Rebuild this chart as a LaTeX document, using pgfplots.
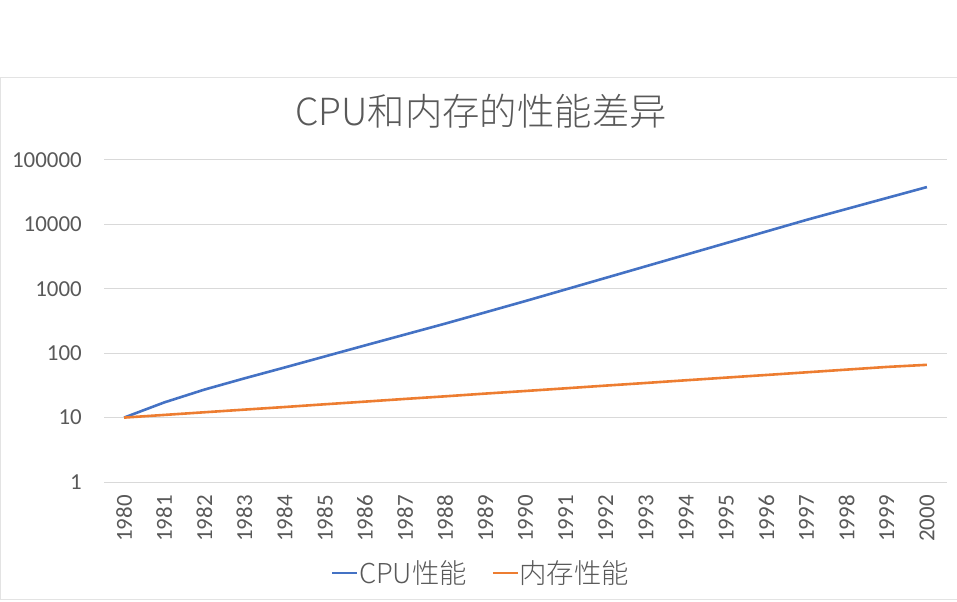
\documentclass[border=0pt]{standalone}
\usepackage{fontspec}
\usepackage{pgfplots}
\pgfplotsset{compat=1.18}
\setmainfont{Carlito}
\newfontfamily\cjk{Noto Sans CJK SC Light}
\definecolor{tgray}{HTML}{595959}
\definecolor{gridc}{HTML}{D9D9D9}
\definecolor{bordc}{HTML}{E3E3E3}
\definecolor{cpublue}{HTML}{4472C4}
\definecolor{memorange}{HTML}{ED7D31}
\begin{document}
\begin{tikzpicture}
\path[use as bounding box] (0bp,0bp) rectangle (957bp,602bp);
\draw[color=bordc, line width=1bp] (957bp,524.5bp) -- (0.5bp,524.5bp) -- (0.5bp,2bp) -- (957bp,2bp);
\node[font=\cjk\fontsize{37.5}{37.5}\selectfont, text=tgray] at (481bp,491bp) {CPU和内存的性能差异};
\begin{axis}[
  at={(104bp,120bp)}, anchor=south west,
  scale only axis, width=843bp, height=322bp,
  ymode=log, ymin=1, ymax=100000,
  xmin=1979.5, xmax=2000.5,
  axis line style={draw=none},
  major tick length=0pt, minor tick length=0pt,
  ymajorgrids, grid style={color=gridc, line width=1bp},
  xtick={1980,1981,1982,1983,1984,1985,1986,1987,1988,1989,1990,1991,1992,1993,1994,1995,1996,1997,1998,1999,2000},
  xticklabels={1980,1981,1982,1983,1984,1985,1986,1987,1988,1989,1990,1991,1992,1993,1994,1995,1996,1997,1998,1999,2000},
  ytick={1,10,100,1000,10000,100000},
  yticklabels={1,10,100,1000,10000,100000},
  ticklabel style={font=\fontsize{23}{23}\selectfont, text=tgray, inner sep=0pt},
  yticklabel style={anchor=east},
  xticklabel style={rotate=90, anchor=east},
  yticklabel shift=22bp,
  xticklabel shift=13bp,
  legend style={at={(0.447,-0.283)}, anchor=center, draw=none, fill=none,
    font=\cjk\fontsize{27.5}{27.5}\selectfont, text=tgray,
    /tikz/every even column/.append style={column sep=24bp},
    nodes={inner sep=1bp}},
  legend columns=2,
  legend image code/.code={\draw[#1, line width=1.4bp] (0bp,0bp) -- (25bp,0bp);},
]
\addplot[color=cpublue, line width=2.6bp, line join=round] coordinates {
(1980,10) (1981,17.2) (1982,27.2) (1983,40.7) (1984,60) (1985,89)
(1986,132) (1987,195) (1988,288) (1989,431) (1990,646) (1991,977)
(1992,1479) (1993,2239) (1994,3388) (1995,5129) (1996,7762)
(1997,11749) (1998,17378) (1999,25704) (2000,38019)
};
\addlegendentry{CPU性能}
\addplot[color=memorange, line width=2.6bp, line join=round] coordinates {
(1980,10) (1981,11) (1982,12.1) (1983,13.3) (1984,14.6) (1985,16.1)
(1986,17.7) (1987,19.5) (1988,21.4) (1989,23.6) (1990,25.9) (1991,28.5)
(1992,31.4) (1993,34.5) (1994,38.0) (1995,41.8) (1996,45.9) (1997,50.5)
(1998,55.6) (1999,61.2) (2000,66)
};
\addlegendentry{内存性能}
\end{axis}
\end{tikzpicture}
\end{document}
